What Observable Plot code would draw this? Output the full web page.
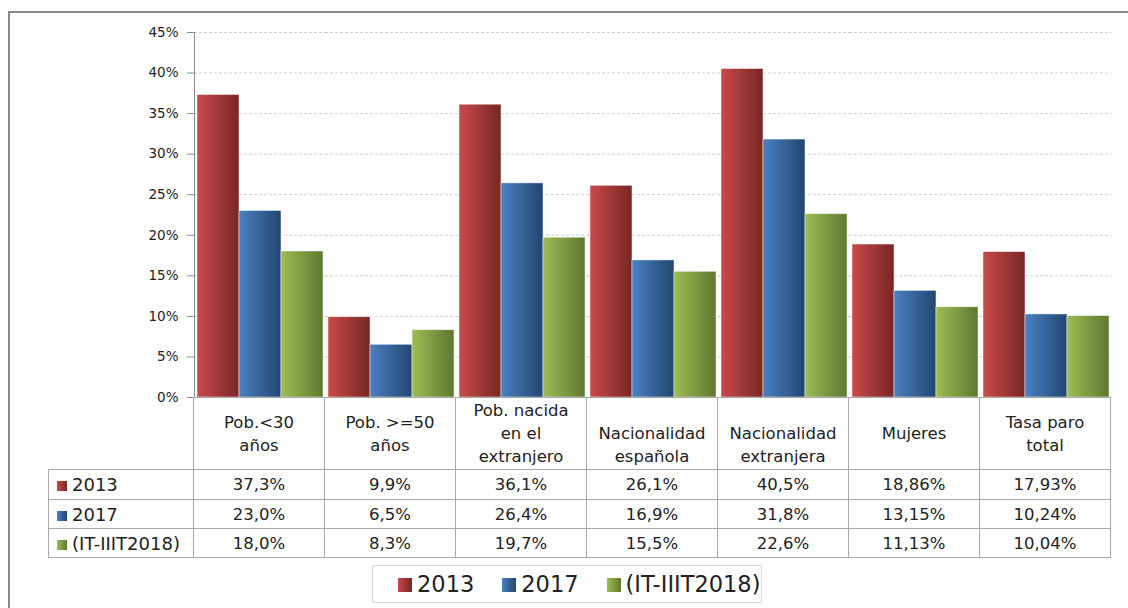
<!DOCTYPE html>
<html>
<head>
<meta charset="utf-8">
<script src="https://cdn.jsdelivr.net/npm/d3@7"></script>
<script src="https://cdn.jsdelivr.net/npm/@observablehq/plot@0.6"></script>
<style>
  html, body { margin: 0; padding: 0; background: #fff; }
  body { width: 1128px; height: 608px; overflow: hidden; font-family: "DejaVu Sans", sans-serif; color: #222; }
  #wrap { position: relative; width: 1128px; height: 608px; }
  #frame { position: absolute; left: 8px; top: 11px; width: 1130px; height: 620px; border-left: 2px solid #8a8a8a; border-top: 2px solid #8a8a8a; box-sizing: border-box; }
  #chart { position: absolute; left: 0; top: 0; }
  #table { position: absolute; left: 48px; top: 397px; border-collapse: collapse; table-layout: fixed; font-size: 16.5px; }
  #table td { border: 1px solid #a9a9a9; text-align: center; padding: 0; white-space: pre-line; line-height: 23px; }
  #table td.shift { padding-top: 23px; }
  #table td.lab { text-align: left; padding-left: 8px; white-space: nowrap; font-size: 18px; }
  #table td.blank { border-top: none; border-left: none; }
  .sw { display: inline-block; width: 10px; height: 10px; margin-right: 5px; vertical-align: 0px; }
  #legend { position: absolute; left: 372px; top: 565px; width: 390px; height: 38px; border: 1px solid #d9d9d9; box-sizing: border-box; display: flex; align-items: center; justify-content: flex-start; padding-left: 25px; gap: 28px; font-size: 22.5px; white-space: nowrap; }
  #legend .sw { width: 14px; height: 14px; margin-right: 5px; }
</style>
</head>
<body>
<div id="wrap">
  <div id="frame"></div>
  <div id="chart"></div>
  <table id="table"></table>
  <div id="legend"></div>
</div>
<script>
const categories = ["Pob.<30\naños", "Pob. >=50\naños", "Pob. nacida\nen el\nextranjero", "Nacionalidad\nespañola", "Nacionalidad\nextranjera", "Mujeres", "Tasa paro\ntotal"];
const seriesNames = ["2013", "2017", "(IT-IIIT2018)"];
const values2013 = [37.3, 9.9, 36.1, 26.1, 40.5, 18.86, 17.93];
const values2017 = [23.0, 6.5, 26.4, 16.9, 31.8, 13.15, 10.24];
const valuesIT2018 = [18.0, 8.3, 19.7, 15.5, 22.6, 11.13, 10.04];
const decimals = [1, 1, 1, 1, 1, 2, 2];
const yTicks = [0, 5, 10, 15, 20, 25, 30, 35, 40, 45];

const seriesValues = [values2013, values2017, valuesIT2018];
const gradients = [
  {id: "g0", from: "#c94a49", to: "#772625"},
  {id: "g1", from: "#4a80c2", to: "#234671"},
  {id: "g2", from: "#9dbd55", to: "#5d7830"}
];

const data = [];
seriesNames.forEach((s, si) => categories.forEach((c, ci) => data.push({category: c, series: s, value: seriesValues[si][ci]})));

const W = 1128;
const plotMarks = [
  Plot.gridY(yTicks, {stroke: "#cfcfcf", strokeOpacity: 1, strokeDasharray: "3,2"}),
  ...seriesNames.map((s, si) => Plot.barY(data.filter(d => d.series === s), {
    fx: "category", x: "series", y: "value",
    fill: `url(#${gradients[si].id})`, stroke: "#ffffff", strokeOpacity: 0.6, strokeWidth: 0.8
  })),
  Plot.axisY(yTicks, {tickSize: 7, tickPadding: 9, tickFormat: d => d + "%", fontSize: 13.5, stroke: "#8a8a8a", fill: "#222", label: null}),
  Plot.frame({anchor: "left", facetAnchor: "left", stroke: "#8a8a8a"}),
  Plot.ruleY([0], {stroke: "#bdbdbd"})
];

const svg = Plot.plot({
  width: W,
  height: 400,
  marginTop: 32,
  marginBottom: 3,
  marginLeft: 193,
  marginRight: 16,
  style: {fontFamily: "'DejaVu Sans', sans-serif", background: "transparent", overflow: "visible"},
  fx: {domain: categories, padding: 0, axis: null, label: null},
  x: {domain: seriesNames, paddingInner: 0, paddingOuter: 0.05, axis: null},
  y: {domain: [0, 45], axis: null, label: null},
  marks: plotMarks
});

const ns = "http://www.w3.org/2000/svg";
const defs = document.createElementNS(ns, "defs");
gradients.forEach(g => {
  const lg = document.createElementNS(ns, "linearGradient");
  lg.setAttribute("id", g.id);
  lg.setAttribute("x1", "0"); lg.setAttribute("x2", "1"); lg.setAttribute("y1", "0"); lg.setAttribute("y2", "0");
  [[0, g.from], [1, g.to]].forEach(([o, c]) => {
    const st = document.createElementNS(ns, "stop");
    st.setAttribute("offset", o); st.setAttribute("stop-color", c);
    lg.appendChild(st);
  });
  defs.appendChild(lg);
});
svg.insertBefore(defs, svg.firstChild);
document.getElementById("chart").appendChild(svg);

// Data table aligned to the facet scale
const fxScale = svg.scale("fx");
const colW = fxScale.bandwidth !== undefined && fxScale.bandwidth > 0 ? fxScale.bandwidth : (W - 193 - 16) / categories.length;
const table = document.getElementById("table");
const colgroup = document.createElement("colgroup");
const firstCol = document.createElement("col"); firstCol.style.width = (193 - 48) + "px"; colgroup.appendChild(firstCol);
categories.forEach(() => { const c = document.createElement("col"); c.style.width = colW + "px"; colgroup.appendChild(c); });
table.appendChild(colgroup);
const headRow = document.createElement("tr"); headRow.style.height = "72px";
const blank = document.createElement("td"); blank.className = "blank"; headRow.appendChild(blank);
categories.forEach(c => {
  const td = document.createElement("td");
  td.textContent = c;
  if (c.startsWith("Nacionalidad")) td.className = "shift";
  headRow.appendChild(td);
});
table.appendChild(headRow);
const rowHeights = [30, 29, 29];
seriesNames.forEach((s, si) => {
  const tr = document.createElement("tr"); tr.style.height = rowHeights[si] + "px";
  const lab = document.createElement("td"); lab.className = "lab";
  lab.innerHTML = `<span class="sw" style="background:linear-gradient(to right, ${gradients[si].from}, ${gradients[si].to})"></span>${s}`;
  tr.appendChild(lab);
  seriesValues[si].forEach((v, ci) => {
    const td = document.createElement("td");
    td.textContent = v.toFixed(decimals[ci]).replace(".", ",") + "%";
    tr.appendChild(td);
  });
  table.appendChild(tr);
});

const legend = document.getElementById("legend");
seriesNames.forEach((s, si) => {
  const item = document.createElement("span");
  item.innerHTML = `<span class="sw" style="background:linear-gradient(to right, ${gradients[si].from}, ${gradients[si].to})"></span>${s}`;
  legend.appendChild(item);
});
</script>
</body>
</html>
